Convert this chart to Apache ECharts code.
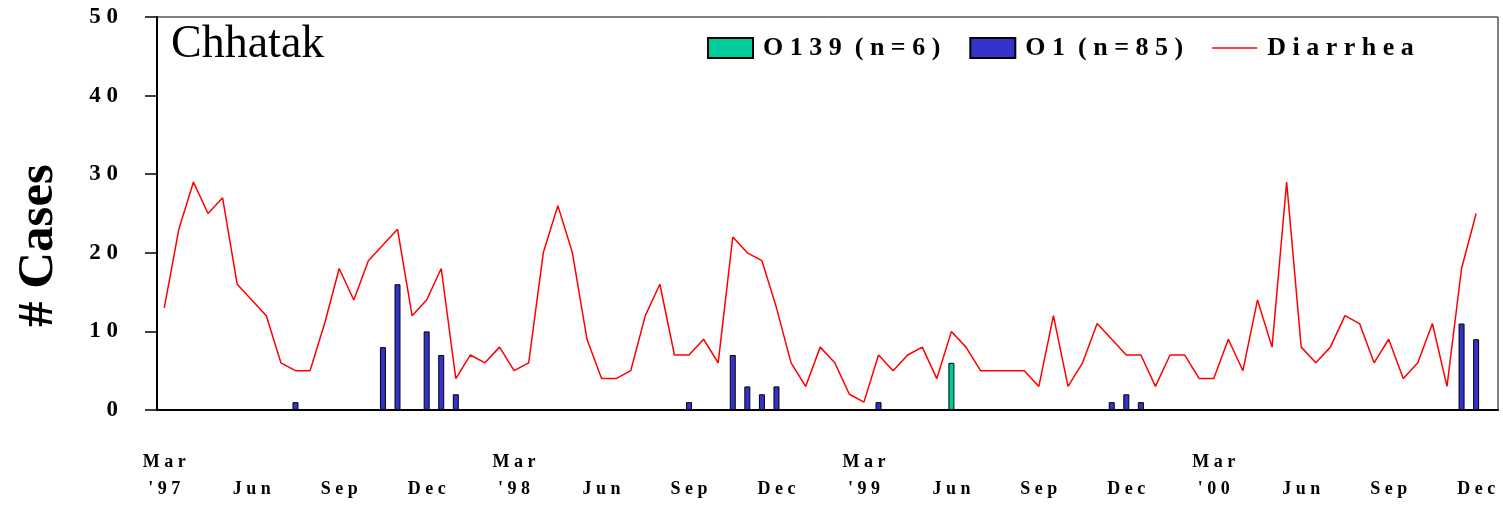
<!DOCTYPE html>
<html>
<head>
<meta charset="utf-8">
<script src="https://cdn.jsdelivr.net/npm/echarts@6/dist/echarts.min.js"></script>
<style>html,body{margin:0;padding:0;background:#fff}#c{width:1503px;height:505px}</style>
</head>
<body>
<div id="c"></div>
<script>
// Half-month periods from Mar 1997 (92 slots on the axis)
const periodCount = 92;
const tickLabels = ["Mar\n'97","Jun","Sep","Dec","Mar\n'98","Jun","Sep","Dec","Mar\n'99","Jun","Sep","Dec","Mar\n'00","Jun","Sep","Dec"];
const diarrhea = [13,23,29,25,27,16,14,12,6,5,5,11,18,14,19,21,23,12,14,18,4,7,6,8,5,6,20,26,20,9,4,4,5,12,16,7,7,9,6,22,20,19,13,6,3,8,6,2,1,7,5,7,8,4,10,8,5,5,5,5,3,12,3,6,11,9,7,7,3,7,7,4,4,9,5,14,8,29,8,6,8,12,11,6,9,4,6,11,3,18,25];
const o1Index = [9,15,16,18,19,20,36,39,40,41,42,49,65,66,67,89,90];
const o1Values = [1,8,16,10,7,2,1,7,3,2,3,1,1,2,1,11,9];
const o139Index = [54];
const o139Values = [6];
const yTicks = [0,10,20,30,40,50];

const spaced = s => s.split('\n').map(l => l.split(' ').map(w => w.split('').join(' ')).join('  ')).join('\n');
const categories = Array.from({length: periodCount}, (_, i) => 'p' + i);
function sparse(idx, vals) {
  const a = new Array(periodCount).fill(null);
  idx.forEach((k, j) => { a[k] = vals[j]; });
  return a;
}
const serif = 'Liberation Serif';
const chart = echarts.init(document.getElementById('c'));
chart.setOption({
  animation: false,
  backgroundColor: '#fff',
  title: {
    text: 'Chhatak', left: 166, top: 17,
    textStyle: { fontFamily: serif, fontSize: 46, fontWeight: 'normal', color: '#000' }
  },
  legend: {
    left: 702, top: 30, itemWidth: 45, itemHeight: 20, itemGap: 29,
    formatter: name => spaced(name),
    textStyle: { fontFamily: serif, fontSize: 26, fontWeight: 'bold', color: '#000', padding: [0, 0, 0, 5] },
    data: [
      { name: 'O139 (n=6)', icon: 'rect' },
      { name: 'O1 (n=85)', icon: 'rect' },
      { name: 'Diarrhea', icon: 'path://M0,0 L45,0 L45,1.3 L0,1.3 Z' }
    ]
  },
  grid: { left: 157, right: 5, top: 17, bottom: 95, show: true, borderColor: '#000', borderWidth: 1 },
  xAxis: {
    type: 'category', data: categories, boundaryGap: true,
    axisLine: { lineStyle: { color: '#000', width: 2 } },
    axisTick: { show: false },
    axisLabel: {
      interval: 5, margin: 39, lineHeight: 27, hideOverlap: false,
      fontFamily: serif, fontSize: 18, fontWeight: 'bold', color: '#000',
      formatter: (v, i) => {
        if (i % 6 !== 0) return '';
        const t = tickLabels[i / 6];
        return t.indexOf('\n') >= 0 ? spaced(t) : '\n' + spaced(t);
      }
    }
  },
  yAxis: {
    type: 'value', min: yTicks[0], max: yTicks[yTicks.length - 1], interval: 10,
    name: '# Cases', nameLocation: 'middle', nameGap: 93, nameRotate: 90,
    nameTextStyle: { fontFamily: serif, fontSize: 51, fontWeight: 'bold', color: '#000', padding: [0, 64, 0, 0] },
    axisLine: { show: true, lineStyle: { color: '#000', width: 2 } },
    axisTick: { show: true, length: 12, lineStyle: { color: '#000', width: 1.5 } },
    splitLine: { show: false },
    axisLabel: {
      margin: 39, fontFamily: serif, fontSize: 23, fontWeight: 'bold', color: '#000',
      formatter: v => spaced(String(v))
    }
  },
  series: [
    {
      name: 'O139 (n=6)', type: 'bar', barWidth: 6, barGap: '-100%',
      itemStyle: { color: '#00cc99', borderColor: '#000', borderWidth: 1 },
      data: sparse(o139Index, o139Values)
    },
    {
      name: 'O1 (n=85)', type: 'bar', barWidth: 6, barGap: '-100%',
      itemStyle: { color: '#3333cc', borderColor: '#000', borderWidth: 1 },
      data: sparse(o1Index, o1Values)
    },
    {
      name: 'Diarrhea', type: 'line', symbol: 'none', z: 5,
      lineStyle: { color: '#ff0000', width: 1.5 },
      itemStyle: { color: '#ff0000' },
      data: diarrhea
    }
  ]
});
</script>
</body>
</html>
